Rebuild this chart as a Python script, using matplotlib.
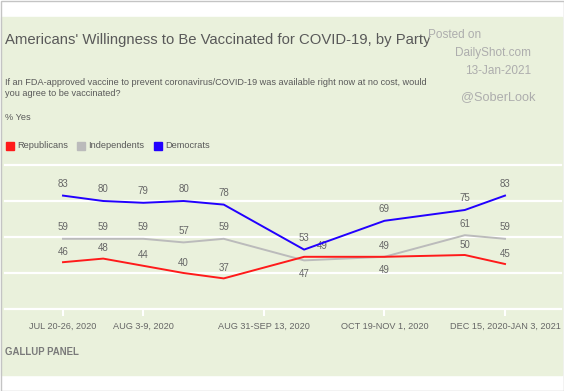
import numpy as np
import matplotlib
matplotlib.use("Agg")
import matplotlib.pyplot as plt
from matplotlib.patches import Rectangle

plt.rcParams['font.family'] = ['Liberation Sans', 'DejaVu Sans']

# survey waves (x slot of each wave on the time axis)
wave_pos = [0, 1, 2, 3, 4, 6, 8, 10, 11]
republicans = [46, 48, 44, 40, 37, 49, 49, 50, 45]
independents = [59, 59, 59, 57, 59, 47, 49, 61, 59]
democrats = [83, 80, 79, 80, 78, 53, 69, 75, 83]

tick_pos = [0, 2, 5, 8, 11]
tick_labels = ["JUL 20-26, 2020", "AUG 3-9, 2020", "AUG 31-SEP 13, 2020",
               "OCT 19-NOV 1, 2020", "DEC 15, 2020-JAN 3, 2021"]

RED, GRAY, BLUE = "#ff1a1a", "#bbbbbb", "#2200ff"
TXT = "#595959"

W, H = 564, 391
fig = plt.figure(figsize=(W / 100, H / 100), dpi=100)
fig.patch.set_facecolor("white")

def fx(px):
    return px / W

def fy(py):
    return 1 - py / H

# green panel + border
fig.patches.append(Rectangle((fx(1), fy(375)), fx(561), (375 - 17) / H,
                             transform=fig.transFigure, color="#eaf1dc", zorder=-5))
fig.patches.append(Rectangle((0.5 / W, 0.5 / H), 1 - 1 / W, 1 - 1 / H, transform=fig.transFigure,
                             fill=False, edgecolor="#c4c4c4", lw=1, zorder=-4))

# axes: x=0 -> 63px, x=11 -> 505px ; y=20 -> 309px, y=100 -> 165px
xs = (505 - 63) / 11
ys = (309 - 165) / 80
left_px, right_px, top_px, bot_px = 5, 561, 161, 309
ax = fig.add_axes([fx(left_px), fy(bot_px), (right_px - left_px) / W, (bot_px - top_px) / H])
ax.set_facecolor("none")
ax.set_xlim((left_px - 63) / xs, (right_px - 63) / xs)
ax.set_ylim(20, 100 + (165 - top_px) / ys)
for s in ax.spines.values():
    s.set_visible(False)

ax.set_yticks([20, 40, 60, 80, 100])
ax.yaxis.set_tick_params(length=0, labelleft=False)
ax.grid(axis="y", color="white", lw=1.6)
for gl in ax.get_ygridlines():
    gl.set_clip_on(False)
ax.set_axisbelow(True)

ax.set_xticks(tick_pos)
ax.set_xticklabels(tick_labels, fontsize=6.6, color="#666666")
ax.tick_params(axis="x", direction="out", length=5, width=1.5, color="white", pad=4)

ax.plot(wave_pos, independents, color=GRAY, lw=1.4, zorder=3)
ax.plot(wave_pos, republicans, color=RED, lw=1.4, zorder=4)
ax.plot(wave_pos, democrats, color=BLUE, lw=1.4, zorder=5)

lab = dict(fontsize=7, color="#666666", ha="center", va="center", textcoords="offset points")
for x, v in zip(wave_pos, democrats):
    ax.annotate(str(v), (x, v), xytext=(0, 8.3), **lab)
for x, v in zip(wave_pos, independents):
    dy = -9.5 if x in (6, 8) else 8.3
    ax.annotate(str(v), (x, v), xytext=(0, dy), **lab)
for x, v in zip(wave_pos, republicans):
    dx = 13 if x == 6 else 0
    ax.annotate(str(v), (x, v), xytext=(dx, 7.5), **lab)

# header texts
fig.text(fx(5), fy(40), "Americans' Willingness to Be Vaccinated for COVID-19, by Party",
         fontsize=10.7, color=TXT, va="center")
fig.text(fx(5), fy(88), "If an FDA-approved vaccine to prevent coronavirus/COVID-19 was available right now at no cost, would\n"
         "you agree to be vaccinated?", fontsize=6.6, color=TXT, va="center", linespacing=1.35)
fig.text(fx(5), fy(117), "% Yes", fontsize=6.6, color=TXT, va="center")

# legend
for x0, c, name in [(5.5, RED, "Republicans"), (77, GRAY, "Independents"), (154, BLUE, "Democrats")]:
    fig.patches.append(Rectangle((fx(x0), fy(150)), fx(8), 8 / H, transform=fig.transFigure,
                                 color=c, zorder=2))
    fig.text(fx(x0 + 11.5), fy(146), name, fontsize=6.7, color=TXT, va="center")

fig.text(fx(5), fy(352), "GALLUP PANEL", fontsize=6.9, fontweight="bold",
         color="#7a7a7a", va="center")

# watermark
wm = "#adadad"
fig.text(fx(428), fy(35), "Posted on", fontsize=8.5, color=wm, va="center")
fig.text(fx(531), fy(53), "DailyShot.com", fontsize=8.5, color=wm, va="center", ha="right")
fig.text(fx(531), fy(71), "13-Jan-2021", fontsize=8.5, color=wm, va="center", ha="right")
fig.text(fx(535), fy(97), "@SoberLook", fontsize=9.2, color=wm, va="center", ha="right")

fig.savefig("out.png", dpi=100)
